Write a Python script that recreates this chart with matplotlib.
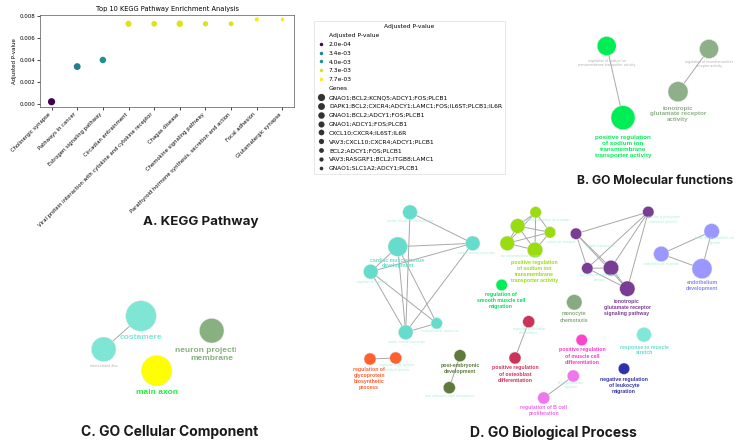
import numpy as np
import matplotlib.pyplot as plt
from matplotlib.lines import Line2D
from matplotlib.patches import Circle, Rectangle
from matplotlib.colors import Normalize

# ---------------- A. KEGG pathway data ----------------
pathways = ['Cholinergic synapse', 'Pathways in cancer', 'Estrogen signaling pathway',
            'Circadian entrainment',
            'Viral protein interaction with cytokine and cytokine receptor',
            'Chagas disease', 'Chemokine signaling pathway',
            'Parathyroid hormone synthesis, secretion and action',
            'Focal adhesion', 'Glutamatergic synapse']
padj = [0.0002, 0.0034, 0.0040, 0.0073, 0.0073, 0.0073, 0.0073, 0.0073, 0.0077, 0.0077]
padj_levels = [2.0e-04, 3.4e-03, 4.0e-03, 7.3e-03, 7.7e-03]
gene_sets = ['GNAO1;BCL2;KCNQ5;ADCY1;FOS;PLCB1',
             'DAPK1;BCL2;CXCR4;ADCY1;LAMC1;FOS;IL6ST;PLCB1;IL6R',
             'GNAO1;BCL2;ADCY1;FOS;PLCB1',
             'GNAO1;ADCY1;FOS;PLCB1',
             'CXCL10;CXCR4;IL6ST;IL6R',
             'VAV3;CXCL10;CXCR4;ADCY1;PLCB1',
             'BCL2;ADCY1;FOS;PLCB1',
             'VAV3;RASGRF1;BCL2;ITGB8;LAMC1',
             'GNAO1;SLC1A2;ADCY1;PLCB1']
gene_idx = [0, 1, 2, 3, 4, 2, 5, 6, 7, 8]

# ---------------- B. GO molecular function network ----------------
mf_x = [606.7, 623, 709, 678]
mf_y = [46, 117.7, 49, 91.7]
mf_r = [9.5, 12, 9.5, 10]
mf_col = ['#00ee55', '#00ee55', '#8db088', '#8db088']
mf_edges = [(0, 1), (2, 3)]
mf_labels = [('positive regulation\nof sodium ion\ntransmembrane\ntransporter activity', 623, 146.5, '#00ee55'),
             ('ionotropic\nglutamate receptor\nactivity', 678, 114, '#8db088')]
mf_small = [('regulation of sodium ion\ntransmembrane transporter activity', 606.7, 63),
            ('regulation of neurotransmitter\nreceptor activity', 709, 64)]

# ---------------- C. GO cellular component network ----------------
cc_x = [141, 103.7, 211.7, 156.7]
cc_y = [316, 349.3, 330.7, 370.7]
cc_r = [15.3, 12.3, 12.3, 15.3]
cc_col = ['#7fe6d6', '#7fe6d6', '#88b080', '#ffff00']
cc_edges = [(0, 1)]
cc_labels = [('costamere', 141, 337.7, '#7fe6d6'),
             ('neuron projection\nmembrane', 211.5, 354.5, '#88b080'),
             ('main axon', 156.7, 392.3, '#22ee44')]
cc_small = [('intercalated disc', 103.7, 366)]

# ---------------- D. GO biological process network ----------------
bp_x = [410, 397.7, 472.7, 370.7, 436.7, 405.7,
        535.7, 517.7, 550, 507.3, 535, 501.7,
        648.3, 576, 587.3, 611, 627.3,
        711.7, 661.3, 702,
        574.3, 644, 581.7, 624, 573.3, 543.7, 528.7, 515, 460, 449.3, 370, 395.7]
bp_y = [212.3, 246.7, 243.3, 271.7, 323.3, 332.3,
        212.3, 226, 232.3, 243.3, 250, 285,
        212, 233.7, 268.3, 268, 288.7,
        231.3, 254, 268.7,
        302.3, 334.7, 340, 368.7, 376, 398, 321.7, 358, 355.7, 387.7, 359, 358]
bp_r = [7.3, 9.7, 7.3, 7.3, 5.7, 7.3,
        5.7, 7.3, 5.7, 7.3, 7.7, 5.7,
        5.7, 5.7, 5.7, 7.7, 7.7,
        7.7, 7.7, 10,
        7.7, 7.3, 5.7, 5.7, 6, 6, 6, 6, 6, 6, 6, 6]
bp_col = ['#66ddcc'] * 6 + ['#99dd11'] * 5 + ['#00ee55'] + ['#7a3d95'] * 5 + ['#9a98ff'] * 3 + \
         ['#88aa80', '#80e8d8', '#ff44cc', '#3030aa', '#ee77ee', '#ee77ee',
          '#cc3358', '#cc3358', '#5e7a3c', '#5e7a3c', '#ff6030', '#ff6030']
bp_edges = [(0, 2), (0, 5), (1, 2), (1, 3), (1, 5), (1, 4), (3, 2), (3, 4), (3, 5), (2, 5), (5, 4),
            (6, 7), (6, 8), (6, 9), (6, 10), (7, 8), (7, 9), (7, 10), (8, 9), (8, 10), (9, 10),
            (12, 13), (12, 14), (12, 15), (12, 16), (13, 14), (13, 15), (13, 16), (14, 15), (14, 16), (15, 16),
            (17, 18), (17, 19), (18, 19),
            (24, 25), (26, 27), (28, 29), (30, 31)]
bp_labels = [('cardiac muscle tissue\ndevelopment', 397.5, 263, '#66ddcc'),
             ('positive regulation\nof sodium ion\ntransmembrane\ntransporter activity', 534.3, 271.3, '#99dd11'),
             ('regulation of\nsmooth muscle cell\nmigration', 501, 300.5, '#00dd55'),
             ('ionotropic\nglutamate receptor\nsignaling pathway', 627, 307, '#7a3d95'),
             ('endothelium\ndevelopment', 702, 285.5, '#8888ee'),
             ('monocyte\nchemotaxis', 574.3, 317, '#88aa80'),
             ('response to muscle\nstretch', 644, 350, '#66ddcc'),
             ('positive regulation\nof muscle cell\ndifferentiation', 582, 356, '#ff33cc'),
             ('negative regulation\nof leukocyte\nmigration', 624, 385, '#3333aa'),
             ('regulation of B cell\nproliferation', 543.7, 411, '#ee66ee'),
             ('positive regulation\nof osteoblast\ndifferentiation', 515, 374, '#cc3358'),
             ('post-embryonic\ndevelopment', 460, 368.5, '#5e7a3c'),
             ('regulation of\nglycoprotein\nbiosynthetic\nprocess', 369, 378.5, '#ff6030')]
bp_small = [('cardiac muscle cell differentiation', 410, 221.5),
            ('cardiac muscle contraction', 476, 253),
            ('regulation of heart rate', 372, 281.5),
            ('striated muscle contraction', 440, 331),
            ('cardiac muscle contraction', 406, 342),
            ('regulation of sodium ion transport', 546, 220),
            ('sodium ion transport', 561, 241.5),
            ('ion transmembrane transport', 521, 256.5),
            ('regulation of postsynaptic\nmembrane potential', 663, 219.5),
            ('synaptic transmission', 600, 246),
            ('glutamate receptor signaling\npathway', 600, 277.5),
            ('blood vessel endothelial cell\nmigration', 714, 240.5),
            ('endothelial cell migration', 662, 263.5),
            ('regulation of osteoblast\ndifferentiation', 529, 331),
            ('regulation of glycoprotein\nmetabolic process', 397, 367.5),
            ('post-embryonic organ development', 450, 395.5),
            ('B cell proliferation\nregulation', 571, 385)]

panel_titles = [('A. KEGG Pathway', 200.5, 222.5, 9.6),
                ('B. GO Molecular functions', 655.5, 181, 8.8),
                ('C. GO Cellular Component', 169.5, 432, 10),
                ('D. GO Biological Process', 553, 432.5, 10)]

W, H = 736, 447
fig = plt.figure(figsize=(W / 100, H / 100), dpi=100)

# full-figure canvas in pixel units for the networks
net = fig.add_axes([0, 0, 1, 1])
net.set_xlim(0, W)
net.set_ylim(H, 0)
net.axis('off')


def draw_network(xs, ys, rs, cols, edges, labels, small, lab_fs, lab_ls, small_col, small_fs, clip=None):
    for a, b in edges:
        net.plot([xs[a], xs[b]], [ys[a], ys[b]], color='#a8a8a8', lw=0.7, zorder=1)
    for x, y, r, c in zip(xs, ys, rs, cols):
        net.add_patch(Circle((x, y), r, facecolor=c, edgecolor='#e8e8e8', lw=0.3, zorder=2))
    for txt, x, y in small:
        net.text(x, y, txt, ha='center', va='center', fontsize=small_fs, color=small_col,
                 linespacing=1.1, zorder=3)
    for txt, x, y, c in labels:
        t = net.text(x, y, txt, ha='center', va='center', fontsize=lab_fs, color=c,
                     fontweight='bold', family='Liberation Sans', linespacing=lab_ls, zorder=3)
        if clip is not None:
            t.set_clip_on(True)
            t.set_clip_path(clip)


draw_network(mf_x, mf_y, mf_r, mf_col, mf_edges, mf_labels, mf_small, 4.5, 1.2, '#b0b0b0', 2.3)
clip_c = Rectangle((0, 0), 236, H, transform=net.transData)
draw_network(cc_x, cc_y, cc_r, cc_col, cc_edges, cc_labels, cc_small, 6.0, 1.25, '#b0b0b0', 2.4, clip=clip_c)
draw_network(bp_x, bp_y, bp_r, bp_col, bp_edges, bp_labels, bp_small, 3.7, 1.25, '#a6eed9', 2.0)

for txt, x, y, fs in panel_titles:
    net.text(x, y, txt, ha='center', va='center', fontsize=fs, fontweight='bold',
             family='Inter', color='#1a1a1a')

# ---------------- A. KEGG scatter ----------------
ax = fig.add_axes([40 / W, 1 - 107 / H, 254 / W, 92 / H])
cmap = plt.get_cmap('viridis')
norm = Normalize(vmin=min(padj), vmax=max(padj))
sizes = np.linspace(27, 7, len(gene_sets))
xpos = np.arange(len(pathways))
ax.scatter(xpos, padj, c=[cmap(norm(v)) for v in padj], s=[sizes[i] for i in gene_idx],
           edgecolors='none', zorder=3)
ax.set_xticks(xpos)
ax.set_xticklabels(pathways, rotation=45, ha='right', fontsize=3.8)
ax.set_yticks([0, 0.002, 0.004, 0.006, 0.008])
ax.set_yticklabels(['0.000', '0.002', '0.004', '0.006', '0.008'])
ax.set_ylim(-0.00028, 0.0081)
ax.tick_params(axis='y', labelsize=4, length=2, width=0.5, pad=1.5)
ax.tick_params(axis='x', length=2, width=0.5, pad=1.5)
ax.set_ylabel('Adjusted P-value', fontsize=4, labelpad=2)
ax.set_title('Top 10 KEGG Pathway Enrichment Analysis', fontsize=4.8, pad=3)
for s in ax.spines.values():
    s.set_linewidth(0.5)
    s.set_color('#555555')

# legend in seaborn style
blank = Line2D([], [], ls='none', marker='')
handles = [blank]
labels = ['Adjusted P-value']
for v in padj_levels:
    handles.append(Line2D([], [], ls='none', marker='o', color=cmap(norm(v)), markersize=2.5,
                          markeredgewidth=0))
    labels.append(f'{v:.1e}')
handles.append(blank)
labels.append('Genes')
for i, g in enumerate(gene_sets):
    handles.append(Line2D([], [], ls='none', marker='o', color='#333333',
                          markersize=np.sqrt(sizes[i]), markeredgewidth=0))
    labels.append(g)
leg = fig.legend(handles, labels, title='Adjusted P-value', loc='upper left',
                 bbox_to_anchor=(311 / W, 1 - 18 / H), fontsize=4.3, title_fontsize=4.3,
                 labelspacing=0.62, handletextpad=0.5, handlelength=1.5, borderpad=0.5,
                 framealpha=1)
leg.get_frame().set_edgecolor('#dddddd')
leg.get_frame().set_linewidth(0.5)

fig.savefig('out.png', dpi=100)
